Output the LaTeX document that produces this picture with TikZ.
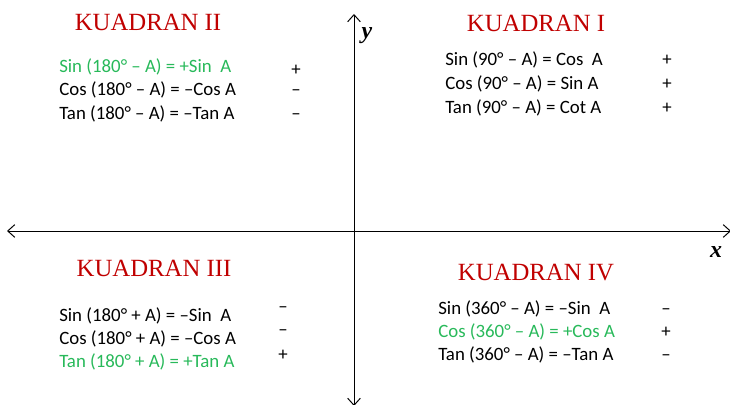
\documentclass[tikz,border=0pt]{standalone}
\usepackage{fontspec}
\setmainfont{Carlito}
\newfontfamily\titlefont{Liberation Serif}
\usetikzlibrary{arrows.meta}
\definecolor{kred}{RGB}{192,0,0}
\definecolor{kgreen}{RGB}{40,185,90}
\begin{document}
\begin{tikzpicture}[x=0.025cm,y=0.025cm]
\tikzstyle{every node}+=[inner sep=0pt]
\tikzstyle{judul}=[text=kred,font=\titlefont\fontsize{17.6}{19}\selectfont]
\tikzstyle{rumus}=[anchor=base west,font=\fontsize{13.4}{15}\selectfont]
\tikzstyle{tanda}=[anchor=base,font=\fontsize{13.4}{15}\selectfont]
\tikzstyle{sumbu}=[line width=0.7pt,{Straight Barb[length=5pt,width=9pt]}-{Straight Barb[length=5pt,width=9pt]}]
\useasboundingbox (0,0) rectangle (730,-405);
% sumbu
\coordinate (kiri) at (7,-231);
\coordinate (kanan) at (731,-231);
\coordinate (atas) at (354,-14);
\coordinate (bawah) at (354,-406);
\draw [sumbu] (kiri) -- (kanan);
\draw [sumbu] (bawah) -- (atas);
\draw (367,-36) node (ly) {\titlefont\bfseries\itshape\fontsize{17}{19}\selectfont y};
\draw (716,-252) node (lx) {\titlefont\bfseries\itshape\fontsize{17}{19}\selectfont x};
% kuadran II
\draw (148,-22) node [judul] (j2) {KUADRAN II};
\draw (59,-73) node [rumus,text=kgreen] (s2) {Sin (180° – A) = +Sin \ A};
\draw (59,-96) node [rumus] (c2) {Cos (180° – A) = –Cos A};
\draw (59,-120) node [rumus] (t2) {Tan (180° – A) = –Tan A};
\draw (296,-76) node [tanda] (ts2) {+};
\draw (296,-96) node [tanda] (tc2) {–};
\draw (296,-120) node [tanda] (tt2) {–};
% kuadran I
\draw (536,-23) node [judul] (j1) {KUADRAN I};
\draw (445,-66) node [rumus] (s1) {Sin (90° – A) = Cos \ A};
\draw (445,-90) node [rumus] (c1) {Cos (90° – A) = Sin A};
\draw (445,-114) node [rumus] (t1) {Tan (90° – A) = Cot A};
\draw (667,-66) node [tanda] (ts1) {+};
\draw (667,-90) node [tanda] (tc1) {+};
\draw (667,-114) node [tanda] (tt1) {+};
% kuadran III
\draw (154,-268) node [judul] (j3) {KUADRAN III};
\draw (59,-322) node [rumus] (s3) {Sin (180° + A) = –Sin \ A};
\draw (59,-345) node [rumus] (c3) {Cos (180° + A) = –Cos A};
\draw (59,-368) node [rumus,text=kgreen] (t3) {Tan (180° + A) = +Tan A};
\draw (283,-313) node [tanda] (ts3) {–};
\draw (283,-336) node [tanda] (tc3) {–};
\draw (283,-361) node [tanda] (tt3) {+};
% kuadran IV
\draw (536,-273) node [judul] (j4) {KUADRAN IV};
\draw (438,-315) node [rumus] (s4) {Sin (360° – A) = –Sin \ A};
\draw (438,-338) node [rumus,text=kgreen] (c4) {Cos (360° – A) = +Cos A};
\draw (438,-361) node [rumus] (t4) {Tan (360° – A) = –Tan A};
\draw (666,-315) node [tanda] (ts4) {–};
\draw (666,-338) node [tanda] (tc4) {+};
\draw (666,-361) node [tanda] (tt4) {–};
\end{tikzpicture}
\end{document}
